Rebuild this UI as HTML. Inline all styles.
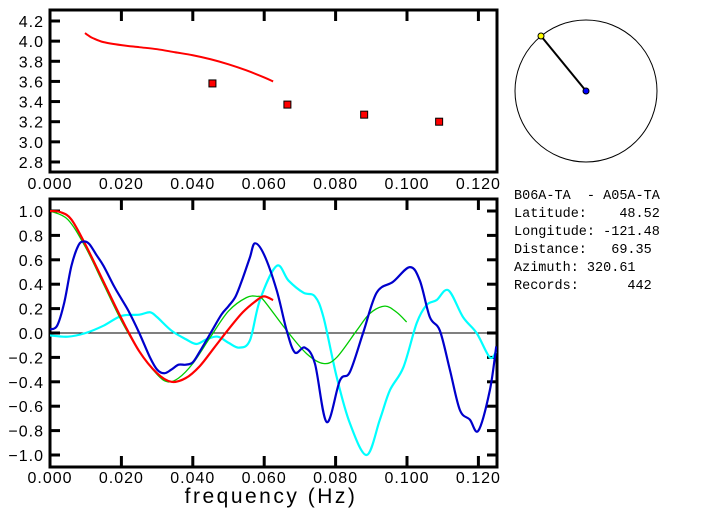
<!DOCTYPE html>
<html><head><meta charset="utf-8"><style>
body{margin:0;background:#fff}
svg{display:block;font-family:"Liberation Sans",sans-serif}
.info{font-family:"Liberation Mono",monospace;white-space:pre}
</style></head><body>
<svg id="c" width="702" height="519" viewBox="0 0 702 519"></svg>
<script>
const xTicks=[0,0.02,0.04,0.06,0.08,0.10,0.12];
const xTickLabels=["0.000","0.020","0.040","0.060","0.080","0.100","0.120"];
const topYTicks=[2.8,3.0,3.2,3.4,3.6,3.8,4.0,4.2];
const botYTicks=[-1.0,-0.8,-0.6,-0.4,-0.2,0.0,0.2,0.4,0.6,0.8,1.0];
const velFreq=[0.0098,0.011,0.012,0.015,0.02,0.025,0.03,0.035,0.04,0.045,0.05,0.055,0.06,0.0625];
const velVals=[4.08,4.05,4.03,3.99,3.96,3.94,3.92,3.89,3.86,3.82,3.77,3.71,3.64,3.60];
const ptFreq=[0.0455,0.0665,0.088,0.109];
const ptVals=[3.58,3.37,3.27,3.20];
const blueF=[0,0.002,0.004,0.006,0.008,0.0095,0.011,0.013,0.015,0.018,0.02,0.022,0.025,0.028,0.030,0.032,0.034,0.036,0.038,0.040,0.042,0.045,0.048,0.050,0.052,0.054,0.056,0.0574,0.060,0.0635,0.0663,0.0686,0.0714,0.0742,0.0775,0.0812,0.084,0.0877,0.0915,0.0961,0.1008,0.1036,0.1064,0.1092,0.112,0.1148,0.1176,0.120,0.1232,0.125];
const blueV=[0.03,0.06,0.25,0.55,0.72,0.75,0.73,0.64,0.55,0.38,0.28,0.18,0.0,-0.2,-0.3,-0.33,-0.3,-0.26,-0.26,-0.24,-0.15,0.0,0.15,0.22,0.3,0.45,0.62,0.735,0.64,0.35,0.02,-0.16,-0.12,-0.25,-0.73,-0.39,-0.32,0.0,0.33,0.42,0.54,0.43,0.13,0.02,-0.3,-0.63,-0.71,-0.8,-0.47,-0.11];
const cyanF=[0,0.005,0.01,0.015,0.02,0.025,0.028,0.030,0.034,0.038,0.041,0.044,0.047,0.050,0.053,0.056,0.0588,0.0635,0.0668,0.0710,0.0742,0.0766,0.0803,0.084,0.0887,0.0924,0.0952,0.099,0.1027,0.1055,0.1083,0.1116,0.1157,0.1195,0.1232,0.125];
const cyanV=[-0.02,-0.03,0.0,0.06,0.14,0.15,0.17,0.13,0.02,-0.05,-0.09,-0.05,-0.03,-0.08,-0.12,-0.06,0.27,0.55,0.43,0.33,0.3,0.13,-0.36,-0.74,-1.0,-0.71,-0.47,-0.28,0.08,0.23,0.27,0.35,0.13,0.0,-0.2,-0.15];
const greenF=[0,0.005,0.01,0.015,0.02,0.025,0.03,0.033,0.036,0.04,0.045,0.05,0.055,0.058,0.0598,0.0663,0.0719,0.0766,0.0803,0.0859,0.0896,0.0938,0.0971,0.0999];
const greenV=[1.0,0.93,0.7,0.4,0.1,-0.15,-0.34,-0.4,-0.37,-0.25,-0.03,0.18,0.29,0.3,0.27,0.02,-0.17,-0.25,-0.2,0.02,0.16,0.22,0.17,0.09];
const redF=[0,0.003,0.006,0.01,0.015,0.02,0.025,0.03,0.034,0.038,0.042,0.046,0.05,0.054,0.058,0.060,0.0625];
const redV=[1.0,0.99,0.93,0.72,0.42,0.12,-0.15,-0.33,-0.4,-0.37,-0.27,-0.12,0.03,0.17,0.27,0.3,0.27];
const infoLines=["B06A-TA  - A05A-TA","Latitude:    48.52","Longitude: -121.48","Distance:   69.35","Azimuth: 320.61","Records:      442"];

const NS="http://www.w3.org/2000/svg";const svg=document.getElementById('c');
function mk(t,a,p){const e=document.createElementNS(NS,t);for(const k in a)e.setAttribute(k,a[k]);(p||svg).appendChild(e);return e;}
const L=50,R=497;
const sx=f=>L+f/0.01*35.7;
const tyT=v=>21+(4.2-v)*100.7;
const tyB=v=>333-v*122;
function smooth(xs,ys){let d="M"+xs[0]+","+ys[0];for(let i=0;i<xs.length-1;i++){const x0=xs[Math.max(0,i-1)],y0=ys[Math.max(0,i-1)],x1=xs[i],y1=ys[i],x2=xs[i+1],y2=ys[i+1],x3=xs[Math.min(xs.length-1,i+2)],y3=ys[Math.min(xs.length-1,i+2)];d+=" C"+(x1+(x2-x0)/6)+","+(y1+(y2-y0)/6)+" "+(x2-(x3-x1)/6)+","+(y2-(y3-y1)/6)+" "+x2+","+y2;}return d;}
const tickFont={'font-size':16,'letter-spacing':1};
// top plot
const g1=mk('g',{});
let r=mk('rect',{x:L,y:10,width:R-L,height:162,fill:'none',stroke:'#000','stroke-width':3},g1);
xTicks.forEach((t,i)=>{const x=sx(t);mk('line',{x1:x,y1:10,x2:x,y2:21,stroke:'#000','stroke-width':3},g1);
 const tx=mk('text',Object.assign({x:x,y:189,'text-anchor':'middle'},tickFont),g1);tx.textContent=xTickLabels[i];});
topYTicks.forEach(v=>{const y=tyT(v);mk('line',{x1:L,y1:y,x2:L+10,y2:y,stroke:'#000','stroke-width':3},g1);
 const tx=mk('text',Object.assign({x:44,y:y+6,'text-anchor':'end'},tickFont),g1);tx.textContent=v.toFixed(1);});
let p=mk('path',{d:smooth(velFreq.map(sx),velVals.map(tyT)),fill:'none',stroke:'#f00','stroke-width':2},g1);
ptFreq.forEach((f,i)=>{const q=mk('rect',{x:sx(f)-3.5,y:tyT(ptVals[i])-3.5,width:7,height:7,fill:'#f00',stroke:'#000','stroke-width':1},g1);});
// bottom plot
const g2=mk('g',{});
r=mk('rect',{x:L,y:199,width:R-L,height:268,fill:'none',stroke:'#000','stroke-width':3},g2);
mk('line',{x1:L,y1:tyB(0),x2:R,y2:tyB(0),stroke:'#000','stroke-width':1},g2);
xTicks.forEach((t,i)=>{const x=sx(t);mk('line',{x1:x,y1:199,x2:x,y2:210,stroke:'#000','stroke-width':3},g2);mk('line',{x1:x,y1:467,x2:x,y2:456,stroke:'#000','stroke-width':3},g2);
 const tx=mk('text',Object.assign({x:x,y:483,'text-anchor':'middle'},tickFont),g2);tx.textContent=xTickLabels[i];});
botYTicks.forEach(v=>{const y=tyB(v);mk('line',{x1:L,y1:y,x2:L+10,y2:y,stroke:'#000','stroke-width':3},g2);mk('line',{x1:R,y1:y,x2:R-10,y2:y,stroke:'#000','stroke-width':3},g2);
 const tx=mk('text',Object.assign({x:44,y:y+6,'text-anchor':'end'},tickFont),g2);tx.textContent=v.toFixed(1).replace('-','\u2212');});
const cp=mk('clipPath',{id:'cl'});mk('rect',{x:L,y:199,width:R-L,height:268},cp);
[[cyanF,cyanV,'#0ff',2.2,'cyan-series'],[greenF,greenV,'#0c0',1.3,'green-series'],[redF,redV,'#f00',2.2,'red-series'],[blueF,blueV,'#00c',2.2,'blue-series']].forEach(s=>{
 const e=mk('path',{d:smooth(s[0].map(sx),s[1].map(tyB)),fill:'none',stroke:s[2],'stroke-width':s[3],'clip-path':'url(#cl)'},g2);});
let xt=mk('text',{x:271,y:503,'font-size':21,'letter-spacing':2.5,'text-anchor':'middle'});xt.textContent='frequency (Hz)';
// azimuth circle
const g3=mk('g',{});
mk('circle',{cx:586,cy:91,r:71,fill:'none',stroke:'#000','stroke-width':1},g3);
mk('line',{x1:586,y1:91,x2:541,y2:36,stroke:'#000','stroke-width':2},g3);
let c1=mk('circle',{cx:586,cy:91,r:3,fill:'#00f',stroke:'#000'},g3);
let c2=mk('circle',{cx:541,cy:36,r:3,fill:'#ff0',stroke:'#000'},g3);
infoLines.forEach((s,i)=>{const t=mk('text',{x:514,y:199+i*18,'font-size':13.5,'class':'info'});t.textContent=s;});
</script>
</body></html>
